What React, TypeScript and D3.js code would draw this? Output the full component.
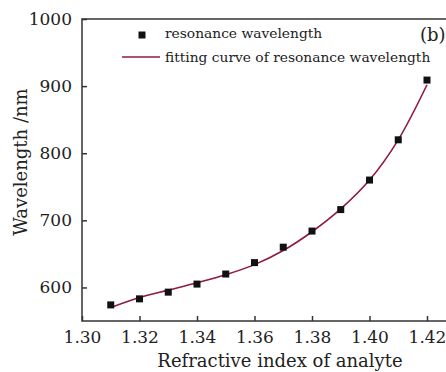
import React, { useEffect, useRef } from 'react';
import * as d3 from 'd3';

// refractive index of analyte
const indexValues = [1.31, 1.32, 1.33, 1.34, 1.35, 1.36, 1.37, 1.38, 1.39, 1.40, 1.41, 1.42];
// resonance wavelength (nm)
const resonance = [574, 583, 593, 605, 620, 637, 660, 684, 716, 760, 820, 909];
// fitting curve of resonance wavelength (nm)
const fitting = [570, 585, 596, 607, 619, 634, 655, 683, 717, 760, 820, 902];

const xTicks = [1.30, 1.32, 1.34, 1.36, 1.38, 1.40, 1.42];
const yTicks = [600, 700, 800, 900, 1000];

const legendLabels = ['resonance wavelength', 'fitting curve of resonance wavelength'];

const width = 446;
const height = 372;
const margin = { left: 82, right: -6, top: 19, bottom: 51 };
const fontFam = 'DejaVu Serif, Liberation Serif, serif';
const axisColor = '#333';
const lineColor = '#8e1c3c';

const App = () => {
  const svgRef = useRef(null);

  useEffect(() => {
    const svg = d3.select(svgRef.current);
    svg.selectAll('*').remove();

    const xScale = d3.scaleLinear()
      .domain([1.30, 1.42])
      .range([margin.left, margin.left + 345]);
    const yScale = d3.scaleLinear()
      .domain([550, 1000])
      .range([height - margin.bottom, margin.top]);

    // frame (right side runs off the picture)
    svg.append('rect')
      .attr('x', margin.left)
      .attr('y', margin.top)
      .attr('width', width - margin.right - margin.left)
      .attr('height', height - margin.bottom - margin.top)
      .attr('fill', 'none')
      .attr('stroke', axisColor)
      .attr('stroke-width', 1.5);

    /* axes -------------------------------*/
    const xAxis = d3.axisBottom(xScale)
      .tickValues(xTicks)
      .tickFormat(d3.format('.2f'))
      .tickSizeInner(-5)
      .tickSizeOuter(0)
      .tickPadding(10);

    const gx = svg.append('g')
      .attr('transform', `translate(0, ${height - margin.bottom})`)
      .call(xAxis)
      .attr('font-family', null);
    gx.select('.domain').remove();
    gx.selectAll('line').attr('stroke', axisColor).attr('stroke-width', 1.5);
    gx.selectAll('text')
      .style('font-family', fontFam)
      .style('font-size', '17px')
      .attr('fill', '#222');

    const yAxis = d3.axisLeft(yScale)
      .tickValues(yTicks)
      .tickFormat(d3.format('d'))
      .tickSizeInner(-5)
      .tickSizeOuter(0)
      .tickPadding(10);

    const gy = svg.append('g')
      .attr('transform', `translate(${margin.left}, 0)`)
      .call(yAxis)
      .attr('font-family', null);
    gy.select('.domain').remove();
    gy.selectAll('line').attr('stroke', axisColor).attr('stroke-width', 1.5);
    gy.selectAll('text')
      .style('font-family', fontFam)
      .style('font-size', '17px')
      .attr('fill', '#222');

    // axis titles
    svg.append('text')
      .attr('x', 280)
      .attr('y', 367)
      .attr('text-anchor', 'middle')
      .style('font-family', fontFam)
      .style('font-size', '18px')
      .attr('fill', '#222')
      .text('Refractive index of analyte');

    svg.append('text')
      .attr('transform', 'translate(27, 162) rotate(-90)')
      .attr('text-anchor', 'middle')
      .style('font-family', fontFam)
      .style('font-size', '18px')
      .attr('fill', '#222')
      .text('Wavelength /nm');

    /* fitting curve -------------------------------*/
    const fitLine = d3.line()
      .x((d, i) => xScale(indexValues[i]))
      .y(d => yScale(d))
      .curve(d3.curveCatmullRom);

    svg.append('path')
      .datum(fitting)
      .attr('d', fitLine)
      .attr('fill', 'none')
      .attr('stroke', lineColor)
      .attr('stroke-width', 1.6);

    /* markers -------------------------------*/
    const sq = 7;
    svg.selectAll('.pt')
      .data(resonance)
      .join('rect')
      .attr('class', 'pt')
      .attr('x', (d, i) => xScale(indexValues[i]) - sq / 2)
      .attr('y', d => yScale(d) - sq / 2)
      .attr('width', sq)
      .attr('height', sq)
      .attr('fill', '#111');

    /* legend -------------------------------*/
    svg.append('rect')
      .attr('x', 138.5)
      .attr('y', 31.5)
      .attr('width', sq)
      .attr('height', sq)
      .attr('fill', '#111');
    svg.append('line')
      .attr('x1', 122)
      .attr('x2', 160)
      .attr('y1', 57)
      .attr('y2', 57)
      .attr('stroke', lineColor)
      .attr('stroke-width', 1.6);

    svg.selectAll('.leg')
      .data(legendLabels)
      .join('text')
      .attr('class', 'leg')
      .attr('x', 165)
      .attr('y', (d, i) => 38 + i * 24)
      .style('font-family', fontFam)
      .style('font-size', '13.8px')
      .attr('fill', '#222')
      .text(d => d);

    svg.append('text')
      .attr('x', 420)
      .attr('y', 41)
      .style('font-family', fontFam)
      .style('font-size', '18px')
      .attr('fill', '#222')
      .text('(b)');
  }, []);

  return (
    <svg
      ref={svgRef}
      width={width}
      height={height}
      style={{ position: 'absolute', left: 0, top: 0, background: '#fff' }}
    />
  );
};

export default App;
